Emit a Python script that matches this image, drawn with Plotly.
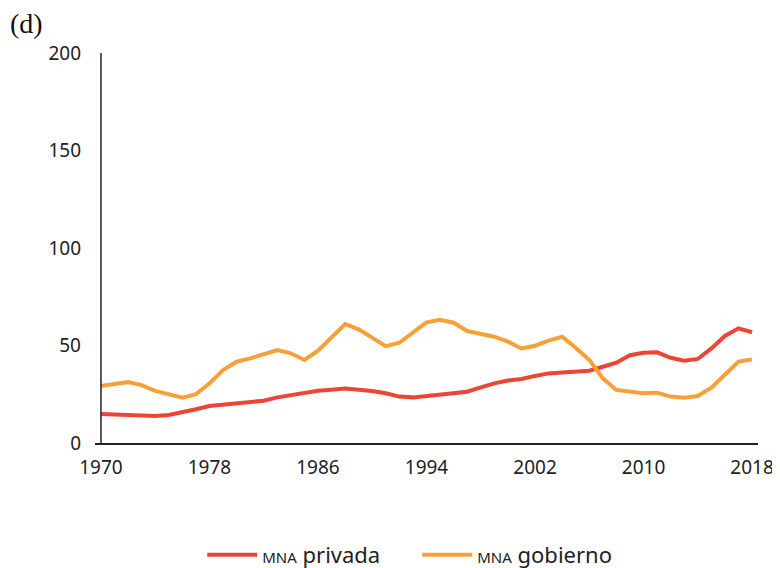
import plotly.graph_objects as go

years = list(range(1970, 2019))
privada = [14.9, 14.5, 14.4, 14.2, 13.8, 14.4, 15.7, 17.3, 19.0, 19.8,
           20.5, 21.0, 21.7, 23.4, 24.6, 25.5, 26.8, 27.3, 27.9, 27.3,
           26.7, 25.5, 23.8, 23.4, 24.1, 25.1, 25.5, 26.3, 28.5, 30.6,
           32.0, 32.8, 34.4, 35.7, 36.2, 36.6, 37.1, 39.1, 41.2, 45.0,
           46.3, 46.5, 43.7, 42.2, 43.1, 48.5, 54.9, 58.8, 56.8]
gobierno = [29.2, 30.2, 31.3, 29.7, 26.7, 25.0, 23.2, 25.0, 30.6, 37.4,
            41.7, 43.4, 45.5, 47.7, 46.0, 42.6, 47.3, 54.2, 61.0, 58.3,
            54.0, 49.7, 51.4, 56.8, 61.9, 63.2, 61.7, 57.4, 55.7, 54.5,
            52.0, 48.5, 49.9, 52.5, 54.5, 48.9, 42.6, 33.2, 27.2, 26.3,
            25.5, 25.8, 23.8, 23.2, 24.1, 28.4, 35.2, 41.7, 42.9]
x_ticks = [1970, 1978, 1986, 1994, 2002, 2010, 2018]
y_ticks = [0, 50, 100, 150, 200]

fig = go.Figure()
fig.add_trace(go.Scatter(x=years, y=privada, mode="lines",
                         name="<span style='font-size:15px'>MNA</span> privada",
                         line=dict(color="#EC4536", width=4)))
fig.add_trace(go.Scatter(x=years, y=gobierno, mode="lines",
                         name="<span style='font-size:15px'>MNA</span> gobierno",
                         line=dict(color="#F8A038", width=4)))

fig.add_shape(type="line", xref="x", yref="y", x0=1970, x1=1970, y0=0, y1=200,
              line=dict(color="#222", width=1.5))

fig.update_layout(
    width=772, height=560,
    margin=dict(l=87, r=22, t=45, b=125, autoexpand=False),
    paper_bgcolor="white", plot_bgcolor="white",
    font=dict(family="Noto Sans, Open Sans, sans-serif", size=19, color="#222"),
    showlegend=True,
    legend=dict(orientation="h", x=0.486, xanchor="center", y=-0.287, yanchor="middle",
                font=dict(size=22), itemwidth=50, entrywidth=150,
                traceorder="normal"),
    xaxis=dict(range=[1969.56, 2018.44], tickvals=x_ticks, showgrid=False,
               zeroline=False, showline=True, linecolor="#222", linewidth=1.5,
               ticks="", ticklabelstandoff=6, automargin=False),
    yaxis=dict(range=[0, 200], tickvals=y_ticks, showgrid=False, zeroline=False,
               showline=False, ticks="", ticklabelstandoff=13, automargin=False),
    annotations=[dict(text="(d)", xref="paper", yref="paper", x=-0.131, y=1.12,
                      xanchor="left", yanchor="top", showarrow=False,
                      font=dict(family="Liberation Serif, serif", size=28, color="#111"))],
)

fig.write_html("out.html")
